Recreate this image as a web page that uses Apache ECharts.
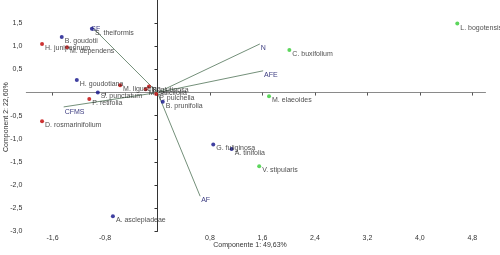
<!DOCTYPE html>
<html>
<head>
<meta charset="utf-8">
<script src="https://cdn.jsdelivr.net/npm/echarts@6/dist/echarts.min.js"></script>
<style>
html,body{margin:0;padding:0;background:#fff;}
#c{width:500px;height:255px;}
</style>
</head>
<body>
<div id="c"></div>
<script>
// ---- data ----
const redNames = ['H. juniperinum','M. dependens','M. ligustrina','B. glutinosa','M. salicifolia','P. pulchella','P. retifolia','D. rosmarinifolium'];
const redX = [-1.76,-1.38,-0.57,-0.13,-0.18,-0.02,-1.04,-1.76];
const redY = [1.05,0.98,0.16,0.13,0.07,-0.03,-0.14,-0.62];

const blueNames = ['B. goudotii','S. theiformis','H. goudotiana','S. punctatum','B. prunifolia','G. fuliginosa','A. tinifolia','A. asclepiadeae'];
const blueX = [-1.46,-1.00,-1.23,-0.91,0.08,0.85,1.13,-0.68];
const blueY = [1.20,1.38,0.27,0.00,-0.20,-1.12,-1.22,-2.67];

const greenNames = ['L. bogotensis','C. buxifolium','M. elaeoides','V. stipularis'];
const greenX = [4.57,2.01,1.70,1.55];
const greenY = [1.49,0.92,-0.08,-1.59];

const vecNames = ['N','AFE','AF','CFMS','SF'];
const vecX = [1.56,1.61,0.65,-1.43,-0.98];
const vecY = [1.05,0.47,-2.24,-0.31,1.39];

const xTicks = [-1.6,-0.8,0.8,1.6,2.4,3.2,4.0,4.8];
const yTicks = [-3.0,-2.5,-2.0,-1.5,-1.0,-0.5,0.5,1.0,1.5];
const xTitle = 'Componente 1: 49,63%';
const yTitle = 'Component 2: 22,60%';

// ---- chart ----
const FONT = '"Liberation Sans", Arial, sans-serif';
const fmt = v => Number(v).toFixed(1).replace('.', ',');

function scatterSeries(names, xs, ys, color) {
  return {
    type: 'scatter',
    symbol: 'circle',
    symbolSize: 4,
    itemStyle: { color: color },
    z: 5,
    label: {
      show: true, position: 'right', distance: 1, offset: [0, 4],
      formatter: p => p.data[2],
      fontSize: 7, fontFamily: FONT, color: '#222'
    },
    data: names.map((n, i) => [xs[i], ys[i], n])
  };
}

const vecSeries = vecNames.map((n, i) => {
  let off = [0, 4], align = 'left';
  if (n === 'CFMS') { off = [0, 5.5]; }
  if (n === 'SF') { off = [-3, 1]; }
  return {
    type: 'line',
    symbol: 'none',
    showSymbol: false,
    silent: true,
    z: 3,
    lineStyle: { color: '#74907a', width: 1 },
    endLabel: {
      show: true, formatter: n, distance: 1, offset: off, align: align,
      fontSize: 7, fontFamily: FONT, color: '#3c3c80'
    },
    data: [[0, 0], [vecX[i], vecY[i]]]
  };
});

const chart = echarts.init(document.getElementById('c'), null, { renderer: 'canvas' });
chart.setOption({
  animation: false,
  backgroundColor: '#ffffff',
  grid: { left: 26.3, right: 14.5, top: 0, bottom: 23.6, containLabel: false },
  xAxis: {
    type: 'value', min: -2.0, max: 5.0,
    axisLine: { onZero: true, lineStyle: { color: '#8a8a8a', width: 1 } },
    axisTick: { show: true, customValues: xTicks, length: 3, lineStyle: { color: '#555' } },
    axisLabel: { customValues: xTicks, formatter: fmt, fontSize: 7, fontFamily: FONT, color: '#333', margin: 3 },
    splitLine: { show: false }
  },
  yAxis: {
    type: 'value', min: -3.0, max: 2.0,
    axisLine: { onZero: true, lineStyle: { color: '#333', width: 1 } },
    axisTick: { show: true, customValues: yTicks, length: 3, lineStyle: { color: '#333' } },
    axisLabel: { customValues: yTicks, formatter: fmt, fontSize: 7, fontFamily: FONT, color: '#333', margin: 4 },
    splitLine: { show: false }
  },
  graphic: [
    { type: 'text', left: 'center', top: 242, style: { text: xTitle, font: '7px ' + FONT, fill: '#333' } },
    { type: 'text', x: 3, y: 152, rotation: Math.PI / 2, style: { text: yTitle, font: '7px ' + FONT, fill: '#333' } }
  ],
  series: [
    ...vecSeries,
    scatterSeries(redNames, redX, redY, '#c00000'),
    scatterSeries(blueNames, blueX, blueY, '#10108a'),
    scatterSeries(greenNames, greenX, greenY, '#33cc33')
  ]
});
</script>
</body>
</html>
